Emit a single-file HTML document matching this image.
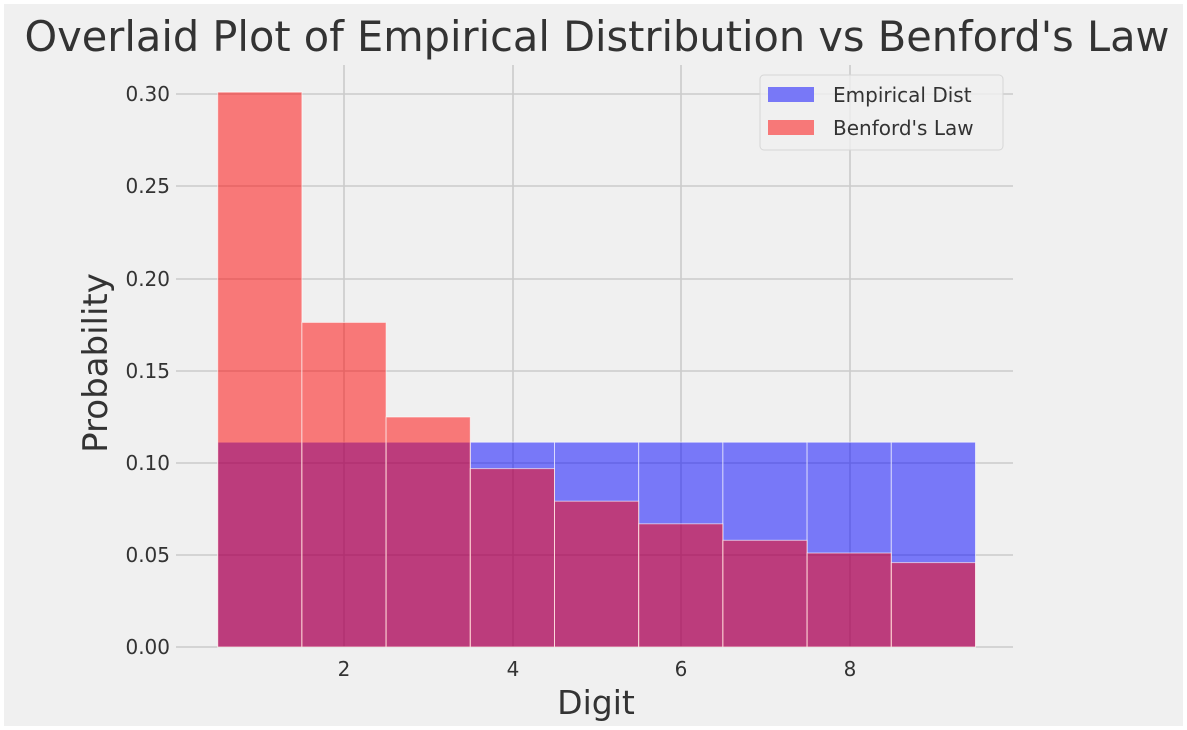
<!DOCTYPE html>
<html><head><style>
body{margin:0;background:#fff;}
svg{display:block;font-family:"DejaVu Sans","Liberation Sans",sans-serif;}
</style></head><body>
<svg width="1187" height="730" viewBox="0 0 1187 730">
<rect x="4" y="4" width="1179" height="722" fill="#f0f0f0"/>
<g stroke="#cbcbcb" stroke-width="1.6">
<line x1="176" x2="1013" y1="647" y2="647"/>
<line x1="176" x2="1013" y1="555" y2="555"/>
<line x1="176" x2="1013" y1="463" y2="463"/>
<line x1="176" x2="1013" y1="371" y2="371"/>
<line x1="176" x2="1013" y1="279" y2="279"/>
<line x1="176" x2="1013" y1="186" y2="186"/>
<line x1="176" x2="1013" y1="94" y2="94"/>
<line x1="344" x2="344" y1="65" y2="647"/>
<line x1="513" x2="513" y1="65" y2="647"/>
<line x1="681" x2="681" y1="65" y2="647"/>
<line x1="850" x2="850" y1="65" y2="647"/>
</g>
<g fill="#0000ff" fill-opacity="0.5" stroke="#fff" stroke-opacity="0.6" stroke-width="1">
<rect x="217.7" y="442.2" width="84.2" height="204.8"/>
<rect x="301.9" y="442.2" width="84.2" height="204.8"/>
<rect x="386.1" y="442.2" width="84.2" height="204.8"/>
<rect x="470.3" y="442.2" width="84.2" height="204.8"/>
<rect x="554.5" y="442.2" width="84.2" height="204.8"/>
<rect x="638.7" y="442.2" width="84.2" height="204.8"/>
<rect x="722.9" y="442.2" width="84.2" height="204.8"/>
<rect x="807.1" y="442.2" width="84.2" height="204.8"/>
<rect x="891.3" y="442.2" width="84.2" height="204.8"/>
</g>
<g fill="#ff0000" fill-opacity="0.5" stroke="#fff" stroke-opacity="0.6" stroke-width="1">
<rect x="217.7" y="92.1" width="84.2" height="554.9"/>
<rect x="301.9" y="322.4" width="84.2" height="324.6"/>
<rect x="386.1" y="417.0" width="84.2" height="230.0"/>
<rect x="470.3" y="468.6" width="84.2" height="178.4"/>
<rect x="554.5" y="501.2" width="84.2" height="145.8"/>
<rect x="638.7" y="523.8" width="84.2" height="123.2"/>
<rect x="722.9" y="540.3" width="84.2" height="106.7"/>
<rect x="807.1" y="553.0" width="84.2" height="94.0"/>
<rect x="891.3" y="562.6" width="84.2" height="84.4"/>
</g>
<g fill="#333" font-size="20" text-anchor="end">
<text x="170" y="654">0.00</text>
<text x="170" y="562">0.05</text>
<text x="170" y="470">0.10</text>
<text x="170" y="378">0.15</text>
<text x="170" y="286">0.20</text>
<text x="170" y="193">0.25</text>
<text x="170" y="101">0.30</text>
</g>
<g fill="#333" font-size="20" text-anchor="middle">
<text x="344" y="676">2</text>
<text x="513" y="676">4</text>
<text x="681" y="676">6</text>
<text x="850" y="676">8</text>
</g>
<text x="596" y="714" font-size="33" fill="#333" text-anchor="middle">Digit</text>
<text transform="translate(107,363) rotate(-90)" font-size="34" fill="#333" text-anchor="middle">Probability</text>
<text x="597" y="51" font-size="41.5" fill="#333" text-anchor="middle">Overlaid Plot of Empirical Distribution vs Benford's Law</text>
<rect x="760" y="75" width="243" height="75" rx="4" fill="#f0f0f0" fill-opacity="0.8" stroke="#d6d6d6"/>
<rect x="768" y="87" width="46" height="15" fill="#7878f7"/>
<rect x="768" y="120" width="46" height="15" fill="#f77878"/>
<g fill="#333" font-size="20">
<text x="833" y="102">Empirical Dist</text>
<text x="833" y="135">Benford's Law</text>
</g>
</svg>
</body></html>
